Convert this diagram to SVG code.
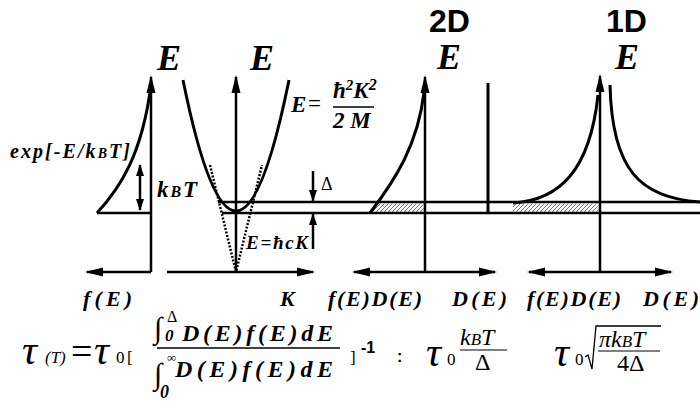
<svg xmlns="http://www.w3.org/2000/svg" width="700" height="411" viewBox="0 0 700 411">
<defs>
<style>
.ax{stroke:#000;stroke-width:2.5;fill:none}
.cv{stroke:#000;stroke-width:3;fill:none}
.ln{stroke:#000;stroke-width:2.5;fill:none}
.dot{stroke:#000;stroke-width:2.5;fill:none;stroke-dasharray:2 1.6}
.bi{font-family:"Liberation Serif",serif;font-weight:bold;font-style:italic;fill:#000}
.it{font-family:"Liberation Serif",serif;font-style:italic;fill:#000}
.rm{font-family:"Liberation Serif",serif;fill:#000}
.sb{font-family:"Liberation Sans",sans-serif;font-weight:bold;fill:#000}
</style>
<marker id="ah" markerUnits="userSpaceOnUse" markerWidth="18" markerHeight="10" viewBox="0 0 18 10" refX="16" refY="5" orient="auto-start-reverse"><path d="M0,0.5 L18,5 L0,9.5 z" fill="#000"/></marker>
<marker id="sa" markerUnits="userSpaceOnUse" markerWidth="12" markerHeight="8" viewBox="0 0 12 8" refX="11" refY="4" orient="auto-start-reverse"><path d="M0,0 L12,4 L0,8 z" fill="#000"/></marker>
<pattern id="hatch" patternUnits="userSpaceOnUse" width="4" height="4"><path d="M-1,1 L1,-1 M0,4 L4,0 M3,5 L5,3" stroke="#666" stroke-width="0.9"/></pattern>
</defs>
<rect width="700" height="411" fill="#fff"/>

<g id="levels">
<line class="ln" x1="218" y1="202" x2="700" y2="202"/>
<line class="ln" x1="222" y1="213" x2="700" y2="213"/>
</g>

<g id="panel-fE">
<line class="ax" x1="151" y1="272" x2="151" y2="77" marker-end="url(#ah)"/>
<line class="ax" x1="151" y1="272" x2="87" y2="272" marker-end="url(#ah)"/>
<line class="ln" x1="97" y1="213" x2="151" y2="213"/>
<path class="cv" d="M97,213 C120,188 142,155 151,85"/>
<line class="ax" x1="140" y1="186" x2="140" y2="165" marker-end="url(#sa)"/>
<line class="ax" x1="140" y1="186" x2="140" y2="210" marker-end="url(#sa)"/>
<text class="bi" x="157" y="70" font-size="36">E</text>
<text class="bi" x="10" y="158" font-size="20" textLength="120" lengthAdjust="spacing">exp[-E/k<tspan font-size="14">B</tspan>T]</text>
<text class="bi" x="157" y="197" font-size="23" textLength="40" lengthAdjust="spacing">k<tspan font-size="16">B</tspan>T</text>
<text class="bi" x="83" y="306" font-size="22" textLength="49" lengthAdjust="spacing">f(E)</text>
</g>

<g id="panel-dispersion">
<line class="ax" x1="167" y1="272" x2="313" y2="272" marker-end="url(#ah)"/>
<line class="ax" x1="236" y1="272" x2="236" y2="77" marker-end="url(#ah)"/>
<path class="cv" d="M183,80 Q236,342 289,80"/>
<path class="dot" d="M210,165 L236,272 L262,165"/>
<line class="ax" x1="313" y1="171" x2="313" y2="201" marker-end="url(#sa)"/>
<line class="ax" x1="313" y1="249" x2="313" y2="214" marker-end="url(#sa)"/>
<text class="rm" x="321" y="190" font-size="18">Δ</text>
<text class="bi" x="246" y="249" font-size="19" textLength="62" lengthAdjust="spacing">E=ħcK</text>
<text class="bi" x="250" y="70" font-size="36">E</text>
<text class="bi" x="291" y="112" font-size="23">E</text>
<text class="rm" x="308" y="111" font-size="23">=</text>
<text class="bi" x="333" y="98" font-size="23">ħ<tspan font-size="15" dy="-8">2</tspan><tspan dy="8">K</tspan><tspan font-size="16" dy="-8">2</tspan></text>
<line x1="333" y1="107" x2="374" y2="107" stroke="#000" stroke-width="1.5"/>
<text class="bi" x="333" y="128" font-size="23">2 M</text>
<text class="bi" x="280" y="306" font-size="22">K</text>
</g>

<g id="panel-2D">
<line class="ax" x1="425" y1="272" x2="354" y2="272" marker-end="url(#ah)"/>
<line class="ax" x1="425" y1="272" x2="495" y2="272" marker-end="url(#ah)"/>
<line class="ax" x1="425" y1="272" x2="425" y2="77" marker-end="url(#ah)"/>
<polygon points="371,212 379,203.5 424,203.5 424,212" fill="url(#hatch)"/>
<path class="cv" d="M370,213 C395,180 418,145 424,92"/>
<line class="cv" x1="488" y1="83" x2="488" y2="214"/>
<text class="sb" x="429" y="32" font-size="32">2D</text>
<text class="bi" x="437" y="69" font-size="36">E</text>
<text class="bi" x="328" y="306" font-size="22" textLength="94" lengthAdjust="spacing">f(E)D(E)</text>
<text class="bi" x="452" y="306" font-size="22" textLength="55" lengthAdjust="spacing">D(E)</text>
</g>

<g id="panel-1D">
<line class="ax" x1="600" y1="272" x2="529" y2="272" marker-end="url(#ah)"/>
<line class="ax" x1="600" y1="272" x2="671" y2="272" marker-end="url(#ah)"/>
<line class="ax" x1="600" y1="272" x2="600" y2="76" marker-end="url(#ah)"/>
<rect x="513" y="203.5" width="86" height="8.5" fill="url(#hatch)"/>
<path class="cv" d="M513,203 C560,200 590,170 598,95"/>
<path class="cv" d="M610,85 C612,170 640,198 700,202"/>
<text class="sb" x="606" y="32" font-size="32">1D</text>
<text class="bi" x="615" y="69" font-size="36">E</text>
<text class="bi" x="527" y="306" font-size="22" textLength="94" lengthAdjust="spacing">f(E)D(E)</text>
<text class="bi" x="643" y="306" font-size="22" textLength="56" lengthAdjust="spacing">D(E)</text>
</g>

<g id="formula">
<text class="it" x="22" y="364" font-size="42">τ</text>
<text class="it" x="45" y="363" font-size="17">(T)</text>
<text class="rm" x="71" y="364" font-size="38">=</text>
<text class="it" x="94" y="364" font-size="42">τ</text>
<text class="rm" x="116" y="363" font-size="17">0</text>
<text class="rm" x="127" y="363" font-size="17">[</text>
<text class="rm" x="154" y="338" font-size="30">∫</text>
<text class="rm" x="167" y="322" font-size="16">Δ</text>
<text class="bi" x="165" y="341" font-size="17">0</text>
<text class="bi" x="182" y="341" font-size="24" textLength="151" lengthAdjust="spacing">D(E)f(E)dE</text>
<line x1="157" y1="348" x2="340" y2="348" stroke="#000" stroke-width="1.5"/>
<text class="rm" x="154" y="384" font-size="30">∫</text>
<text class="rm" x="167" y="362" font-size="13">∞</text>
<text class="bi" x="160" y="398" font-size="18">0</text>
<text class="bi" x="175" y="377" font-size="24" textLength="158" lengthAdjust="spacing">D(E)f(E)dE</text>
<text class="rm" x="350" y="363" font-size="17">]</text>
<text class="sb" x="361" y="353" font-size="16">-1</text>
<text class="sb" x="397" y="362" font-size="16">:</text>
<text class="it" x="426" y="366" font-size="42">τ</text>
<text class="rm" x="447" y="365" font-size="17">0</text>
<text class="it" x="460" y="345" font-size="24">k<tspan font-size="17">B</tspan>T</text>
<line x1="460" y1="350" x2="507" y2="350" stroke="#000" stroke-width="1.2"/>
<text class="rm" x="475" y="370" font-size="24">Δ</text>
<text class="it" x="554" y="366" font-size="42">τ</text>
<text class="rm" x="575" y="365" font-size="17">0</text>
<path d="M585,357 L588,355 L592,369 L596,326 L661,326" fill="none" stroke="#000" stroke-width="1.3"/>
<text class="it" x="599" y="347" font-size="24">πk<tspan font-size="17">B</tspan>T</text>
<line x1="598" y1="351" x2="660" y2="351" stroke="#000" stroke-width="1.2"/>
<text class="rm" x="617" y="371" font-size="24">4Δ</text>
</g>
</svg>
